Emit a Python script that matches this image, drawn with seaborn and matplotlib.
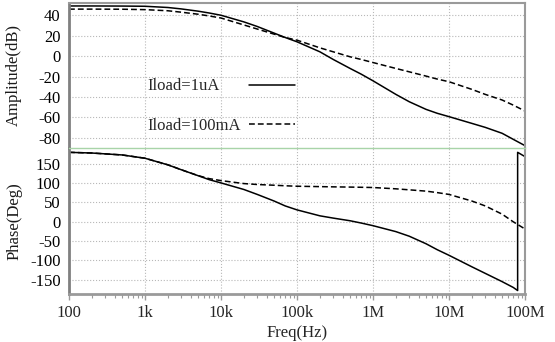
import matplotlib
matplotlib.use("Agg")
import matplotlib.pyplot as plt
import matplotlib.ticker as mticker
import seaborn as sns

# Frequency points (Hz)
freq = [1e2, 2e2, 5e2, 1e3, 2e3, 3e3, 5e3, 7e3, 1e4, 2e4, 3e4, 5e4, 7e4,
        1e5, 2e5, 3e5, 5e5, 7e5, 1e6, 2e6, 3e6, 5e6, 7e6, 1e7, 2e7, 3e7,
        5e7, 7e7, 1e8]

# Amplitude (dB)
amp_1ua = [49.1, 49.1, 49.0, 48.8, 47.6, 46.2, 44, 42.2, 40, 33.5, 29, 22.5,
           18.2, 14, 4.2, -3.3, -12.1, -17.7, -24.2, -37.5, -44.7, -52.2, -56,
           -59.3, -65.9, -69.8, -75.6, -81.5, -87.7]
amp_100ma = [46, 46, 45.9, 45.5, 44.4, 43, 41, 39.3, 37.3, 30.5, 26.5, 21.5,
             18.2, 15.6, 8.1, 4.2, -0.7, -3.3, -6.3, -12.1, -15.4, -19.6, -22.5,
             -25.1, -32.6, -37.5, -43, -48, -53.8]

# Phase (Deg) - the 1uA curve wraps from -180 to +180 near 80 MHz
phase_freq_1ua = [1e2, 2e2, 5e2, 1e3, 2e3, 3e3, 5e3, 7e3, 1e4, 2e4, 3e4, 5e4,
                  7e4, 1e5, 2e5, 3e5, 5e5, 7e5, 1e6, 2e6, 3e6, 5e6, 7e6, 1e7,
                  2e7, 3e7, 5e7, 7e7, 8e7, 8e7, 1e8]
phase_1ua = [179.8, 178, 173, 164.5, 147.4, 134.7, 119.3, 109, 100.6, 83.6, 70.8,
             53.7, 41, 30.8, 15.4, 9.5, 2.6, -3.3, -10.1, -25.5, -37.4, -57,
             -72.3, -86.8, -116.6, -133.6, -155, -170, -178, 179.8, 168.7]
phase_100ma = [179.8, 178, 173, 164.5, 147.4, 134.7, 119.5, 111.7, 106.6, 98.9,
               96.5, 94.6, 93.2, 92, 91, 90.4, 89.8, 89.3, 88.7, 85.3, 82.7,
               79.3, 75.5, 70.8, 53.7, 41, 19.7, 0, -18.7]

xticks = [1e2, 1e3, 1e4, 1e5, 1e6, 1e7, 1e8]
xtick_labels = ["100", "1k", "10k", "100k", "1M", "10M", "100M"]
amp_ticks = [40, 20, 0, -20, -40, -60, -80]
phase_ticks = [150, 100, 50, 0, -50, -100, -150]

sns.set_style("white")
plt.rcParams['font.family'] = ['Liberation Serif', 'DejaVu Serif']
plt.rcParams['axes.unicode_minus'] = False

fig = plt.figure(figsize=(5.55, 3.42), dpi=100)
ax1 = fig.add_axes([69 / 555, 1 - 148 / 342, 456 / 555, 145 / 342])
ax2 = fig.add_axes([69 / 555, 1 - 294 / 342, 456 / 555, 146 / 342], sharex=ax1)

dash = (0, (3.8, 2.0))
lw = 1.1
fs = 12

sns.lineplot(x=freq, y=amp_1ua, ax=ax1, color="black", lw=lw,
             estimator=None, sort=False)
sns.lineplot(x=freq, y=amp_100ma, ax=ax1, color="black", lw=lw,
             linestyle=dash, estimator=None, sort=False)
sns.lineplot(x=phase_freq_1ua, y=phase_1ua, ax=ax2, color="black", lw=lw,
             estimator=None, sort=False)
sns.lineplot(x=freq, y=phase_100ma, ax=ax2, color="black", lw=lw,
             linestyle=dash, estimator=None, sort=False)

for ax in (ax1, ax2):
    ax.set_xscale("log")
    ax.set_xlim(1e2, 1e8)
    ax.grid(True, which="major", ls=":", color="#b8b8b8", lw=0.8)
    ax.grid(False, which="minor")
    for s in ax.spines.values():
        s.set_color("#9a9a9a")
    ax.spines["left"].set_color("#808080")
    ax.spines["left"].set_linewidth(2)
    ax.tick_params(axis="y", length=0, pad=6, labelsize=fs, labelcolor="black")

ax1.set_ylim(-90, 52)
ax1.set_yticks(amp_ticks)
ax1.spines["bottom"].set_visible(False)
ax1.spines["top"].set_linewidth(1.5)
ax1.spines["right"].set_linewidth(1.5)
ax1.tick_params(axis="x", which="both", length=0, labelbottom=False)
ax1.set_ylabel("Amplitude(dB)", fontsize=fs, color="#1a1a1a")
ax1.yaxis.set_label_coords(-0.103, 0.5)

ax2.set_ylim(-187, 191)
ax2.set_yticks(phase_ticks)
ax2.spines["top"].set_color("#a8d4a8")
ax2.spines["top"].set_linewidth(1)
ax2.spines["bottom"].set_linewidth(2)
ax2.spines["right"].set_linewidth(1.5)
ax2.set_xticks(xticks)
ax2.set_xticklabels(xtick_labels)
ax2.xaxis.set_minor_formatter(mticker.NullFormatter())
ax2.tick_params(axis="x", which="major", direction="out", length=4, width=1,
                color="#9a9a9a", pad=4, labelsize=fs, bottom=True)
ax2.tick_params(axis="x", which="minor", direction="out", length=3, width=0.8,
                color="#9a9a9a", bottom=True)
ax2.set_ylabel("Phase(Deg)", fontsize=fs, color="#1a1a1a")
ax2.yaxis.set_label_coords(-0.103, 0.5)
ax2.set_xlabel("Freq(Hz)", fontsize=fs)
ax2.xaxis.set_label_coords(0.5, -0.215)

# legend entries: text followed by line sample
h_solid, h_dash = ax1.lines[0], ax1.lines[1]
leg1 = ax1.legend([h_solid], ["Iload=1uA"], loc="center left",
                  bbox_to_anchor=(0.173, 0.425), frameon=False, markerfirst=False,
                  handlelength=2.75, handletextpad=1.75, borderpad=0,
                  borderaxespad=0, fontsize=fs)
ax1.add_artist(leg1)
ax1.legend([h_dash], ["Iload=100mA"], loc="center left",
           bbox_to_anchor=(0.173, 0.15), frameon=False, markerfirst=False,
           handlelength=2.75, handletextpad=0.45, borderpad=0,
           borderaxespad=0, fontsize=fs)

fig.savefig("out.png", dpi=100)
